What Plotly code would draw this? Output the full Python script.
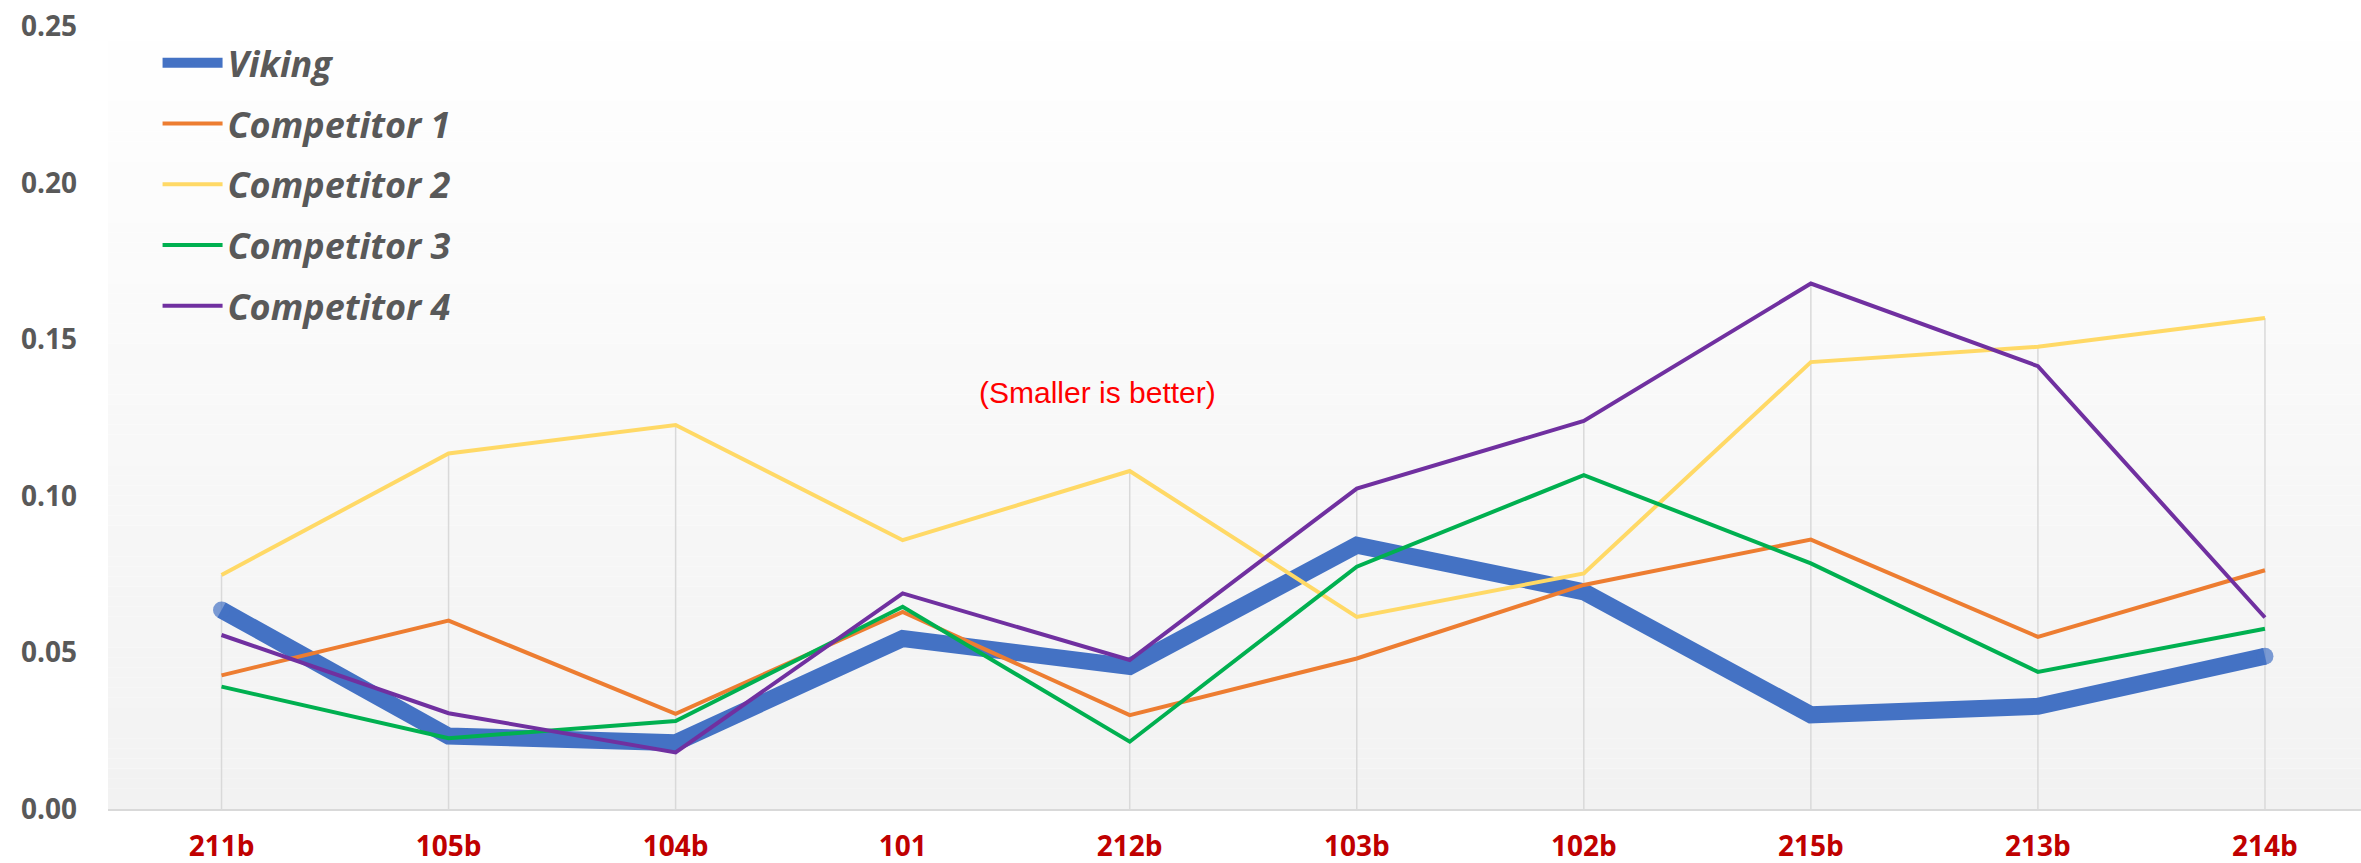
import plotly.graph_objects as go

categories = ["211b", "105b", "104b", "101", "212b", "103b", "102b", "215b", "213b", "214b"]
viking = [0.0636, 0.0233, 0.0212, 0.0545, 0.0455, 0.0843, 0.0694, 0.0301, 0.0328, 0.0488]
competitor1 = [0.0427, 0.0602, 0.0304, 0.0630, 0.0300, 0.0481, 0.0716, 0.0861, 0.0550, 0.0763]
competitor2 = [0.0748, 0.1136, 0.1227, 0.0859, 0.1080, 0.0614, 0.0753, 0.1428, 0.1477, 0.1569]
competitor3 = [0.0391, 0.0226, 0.0281, 0.0646, 0.0215, 0.0774, 0.1067, 0.0785, 0.0438, 0.0576]
competitor4 = [0.0556, 0.0306, 0.0181, 0.0689, 0.0476, 0.1024, 0.1240, 0.1679, 0.1415, 0.0612]
y_ticks = [0.00, 0.05, 0.10, 0.15, 0.20, 0.25]

series = [
    ("Viking", viking, "#4472C4", 17),
    ("Competitor 1", competitor1, "#ED7D31", 4),
    ("Competitor 2", competitor2, "#FFD966", 4),
    ("Competitor 3", competitor3, "#00B050", 4),
    ("Competitor 4", competitor4, "#7030A0", 4),
]

fig = go.Figure()
n = len(categories)
for name, vals, color, w in series:
    if w > 10:
        msize = [w] + [0] * (n - 2) + [w]
        mode = "lines+markers"
    else:
        msize = [0] * n
        mode = "lines"
    fig.add_trace(go.Scatter(
        x=categories, y=vals, name=name, mode=mode, legendgroup=name,
        line=dict(color=color, width=w),
        marker=dict(size=msize, color=color, line=dict(width=0)),
    ))

# gradient background bands
shapes = []
nb = 80
for i in range(nb):
    t = i / (nb - 1)
    c = int(round(0xF2 + (0xFF - 0xF2) * t))
    shapes.append(dict(type="rect", xref="paper", yref="paper",
                       x0=0, x1=1, y0=i / nb, y1=(i + 1) / nb,
                       fillcolor=f"rgb({c},{c},{c})", line=dict(width=0), layer="below"))
# drop lines
for i, cat in enumerate(categories):
    top = max(s[1][i] for s in series)
    shapes.append(dict(type="line", xref="x", yref="y", x0=cat, x1=cat, y0=0, y1=top,
                       line=dict(color="#D9D9D9", width=1.5), layer="below"))

fig.update_layout(
    width=2361, height=863,
    margin=dict(l=108, r=0, t=0, b=54),
    paper_bgcolor="white", plot_bgcolor="white",
    shapes=shapes,
    showlegend=True,
    legend=dict(
        x=0.022, y=0.9595, xanchor="left", yanchor="top",
        bgcolor="rgba(0,0,0,0)", borderwidth=0,
        font=dict(family="Open Sans", size=36, color="#595959", weight="bold", style="italic"),
        itemwidth=60, traceorder="grouped", tracegroupgap=11,
    ),
    xaxis=dict(
        type="category", range=[-0.5, 9.423], showgrid=False, zeroline=False,
        showline=True, linecolor="#D9D9D9", linewidth=2, ticks="",
        tickfont=dict(family="Open Sans", size=28, color="#C00000", weight="bold"),
        ticklabelstandoff=11, automargin=False,
    ),
    yaxis=dict(
        range=[0, 0.2585], tickvals=y_ticks, tickformat=".2f",
        showgrid=False, zeroline=False, showline=False, ticks="",
        tickfont=dict(family="Open Sans", size=28, color="#595959", weight="bold"),
        ticklabelstandoff=30, automargin=False, ticklabeloverflow="allow",
    ),
    annotations=[dict(
        x=3.86, y=0.133, xref="x", yref="y", text="(Smaller is better)",
        showarrow=False, font=dict(family="Liberation Sans", size=30, color="#FF0000"),
    )],
)

fig.write_html("out.html", config={"displayModeBar": False},
               post_script="document.body.style.margin='0';")
